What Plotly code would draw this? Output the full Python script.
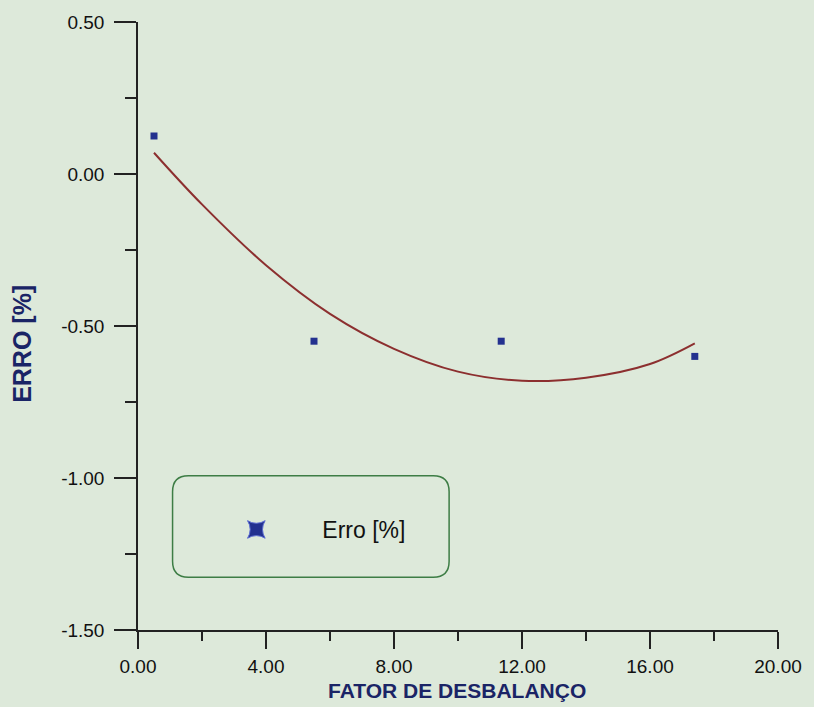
import plotly.graph_objects as go

# measured points
fator = [0.5, 5.5, 11.35, 17.4]
erro = [0.125, -0.55, -0.55, -0.60]

# fitted curve
curva_x = [0.5, 2.0, 4.0, 6.0, 8.0, 10.0, 12.0, 14.0, 16.0, 17.4]
curva_y = [0.07, -0.10, -0.30, -0.46, -0.575, -0.65, -0.68, -0.67, -0.625, -0.557]

x_ticks = [0, 4, 8, 12, 16, 20]
y_ticks = [0.5, 0.0, -0.5, -1.0, -1.5]

BG = "#dde9da"
NAVY = "#23318f"
TITLE = "#1a2466"
AX = "#222222"
FONT = "Liberation Sans"

fig = go.Figure()
fig.add_trace(go.Scatter(x=curva_x, y=curva_y, mode="lines", line=dict(color="#8c2f2f", width=2, shape="spline"),
                         showlegend=False, hoverinfo="skip"))
fig.add_trace(go.Scatter(x=fator, y=erro, mode="markers",
                         marker=dict(symbol="square", size=7, color=NAVY, line=dict(width=0)),
                         showlegend=False, name="Erro [%]"))
fig.add_trace(go.Scatter(x=[None], y=[None], mode="markers", name="Erro [%]",
                         marker=dict(symbol="star-square", size=16, color=NAVY, line=dict(width=1, color="#5a6ad0")),
                         showlegend=True))

W, H = 814, 707
L, R, T, B = 138, 28, 19, 77
pw, ph = W - L - R, H - T - B

def px(x):
    return (x - L) / pw

def py(y):
    return (H - B - y) / ph

# rounded legend box
x0, x1, y0, y1 = px(173), px(453), py(577), py(475)
rx, ry = 16 / pw, 16 / ph
path = (f"M {x0+rx},{y0} L {x1-rx},{y0} Q {x1},{y0} {x1},{y0+ry} L {x1},{y1-ry} Q {x1},{y1} {x1-rx},{y1} "
        f"L {x0+rx},{y1} Q {x0},{y1} {x0},{y1-ry} L {x0},{y0+ry} Q {x0},{y0} {x0+rx},{y0} Z")

fig.update_layout(
    width=W, height=H,
    margin=dict(l=L, r=R, t=T, b=B),
    paper_bgcolor=BG, plot_bgcolor=BG,
    font=dict(family=FONT, color="#111111", size=19),
    shapes=[dict(type="path", xref="paper", yref="paper", path=path,
                 line=dict(color="#3d7d45", width=1.5), fillcolor="rgba(0,0,0,0)")],
    legend=dict(x=px(191), y=py(529), xanchor="left", yanchor="middle", bgcolor="rgba(0,0,0,0)",
                borderwidth=0, itemwidth=122, font=dict(size=23, color="#111111", family=FONT)),
    annotations=[
        dict(text="<b>FATOR DE DESBALANÇO</b>", xref="paper", yref="paper", x=px(461), y=py(691),
             xanchor="center", yanchor="middle", showarrow=False, font=dict(size=21, color=TITLE, family=FONT)),
        dict(text="<b>ERRO [%]</b>", xref="paper", yref="paper", x=px(21), y=py(342), textangle=-90,
             xanchor="center", yanchor="middle", showarrow=False, font=dict(size=25, color=TITLE, family=FONT)),
    ],
)

fig.update_xaxes(range=[0, 20], tickvals=x_ticks, ticktext=[f"{v:.2f}" for v in x_ticks],
                 showgrid=False, zeroline=False, showline=True, linecolor=AX, linewidth=1.5,
                 ticks="outside", ticklen=17, tickwidth=1.5, tickcolor=AX, ticklabelstandoff=1,
                 minor=dict(dtick=2, ticks="outside", ticklen=9, tickwidth=1.5, tickcolor=AX, showgrid=False),
                 tickfont=dict(size=19, color="#111111", family=FONT))
fig.update_yaxes(range=[-1.5, 0.5], tickvals=y_ticks, ticktext=[f"{v:.2f}" for v in y_ticks],
                 showgrid=False, zeroline=False, showline=True, linecolor=AX, linewidth=1.5,
                 ticks="outside", ticklen=22, tickwidth=1.5, tickcolor=AX, ticklabelstandoff=6,
                 minor=dict(dtick=0.25, ticks="outside", ticklen=11, tickwidth=1.5, tickcolor=AX, showgrid=False),
                 tickfont=dict(size=19, color="#111111", family=FONT))

fig.write_html("out.html")
